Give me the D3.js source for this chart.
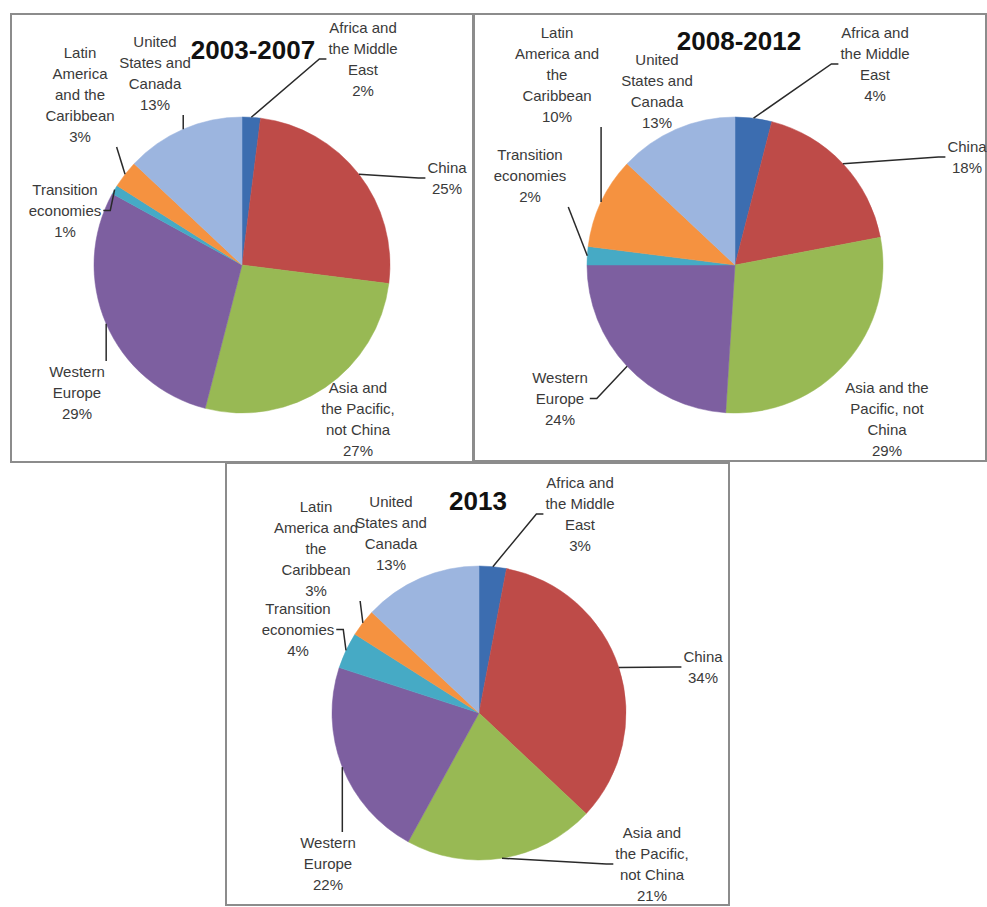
<!DOCTYPE html>
<html>
<head>
<meta charset="utf-8">
<script src="https://cdn.jsdelivr.net/npm/d3@7"></script>
<style>
body { margin: 0; background: #fff; }
</style>
</head>
<body>
<svg id="chart" width="987" height="907"></svg>
<script>
var categories = ["Africa and the Middle East", "China", "Asia and the Pacific, not China",
                  "Western Europe", "Transition economies", "Latin America and the Caribbean",
                  "United States and Canada"];
var periods = ["2003-2007", "2008-2012", "2013"];
var share0307 = [2, 25, 27, 29, 1, 3, 13];
var share0812 = [4, 18, 29, 24, 2, 10, 13];
var share2013 = [3, 34, 21, 22, 4, 3, 13];

var colors = ["#3c6db0", "#be4b48", "#98b954", "#7d5fa0", "#46aac5", "#f59240", "#9cb5df"];

// label placement: [dx, dy of first baseline from pie centre, leader line?, wrap width]
var panels = [
    { values: share0307, title: periods[0], box: [11, 14, 462, 448], cx: 242, cy: 265, r: 148, tx: 253, ty: 59,
      labels: [[121, -232, 1, 77], [205, -92, 1, 77], [116, 128, 0, 77], [-165, 112, 1, 77],
               [-177, -70, 1, 77], [-162, -207, 1, 77], [-87, -218, 1, 77]] },
    { values: share0812, title: periods[1], box: [474, 14, 512, 447], cx: 735, cy: 265, r: 148, tx: 739, ty: 50,
      labels: [[140, -227, 1, 86], [232, -113, 1, 86], [152, 128, 0, 86], [-175, 118, 1, 86],
               [-205, -105, 1, 86], [-178, -227, 1, 86], [-78, -200, 0, 86]] },
    { values: share2013, title: periods[2], box: [226, 463, 503, 442], cx: 479, cy: 713, r: 147, tx: 478, ty: 510,
      labels: [[101, -225, 1, 86], [224, -51, 1, 86], [173, 125, 1, 77], [-151, 135, 1, 86],
               [-181, -99, 1, 86], [-163, -201, 1, 86], [-88, -206, 0, 86]] }
];

var svg = d3.select("#chart");
var fontSize = 15, lineH = 21;

var measure = svg.append("text")
    .attr("font-family", "Liberation Sans, Arial, sans-serif")
    .attr("font-size", fontSize)
    .attr("visibility", "hidden");

function wrap(str, width)
{
    var words = str.split(" ");
    var lines = [];
    var cur = "";
    words.forEach(function(w) {
        var test = cur ? cur + " " + w : w;
        measure.text(test);
        if (cur && measure.node().getComputedTextLength() > width) {
            lines.push(cur);
            cur = w;
        } else {
            cur = test;
        }
    });
    if (cur) lines.push(cur);
    return lines;
}

function drawPanel(p)
{
    svg.append("rect")
        .attr("x", p.box[0]).attr("y", p.box[1])
        .attr("width", p.box[2]).attr("height", p.box[3])
        .attr("fill", "#fff")
        .attr("stroke", "#8c8c8c")
        .attr("stroke-width", 2);

    var g = svg.append("g").attr("transform", "translate(" + p.cx + "," + p.cy + ")");

    var pie = d3.pie().sort(null).value(function(d) { return d; });
    var arcs = pie(p.values);
    var arc = d3.arc().innerRadius(0).outerRadius(p.r);
    var edge = d3.arc().innerRadius(p.r).outerRadius(p.r);

    g.selectAll("path.slice")
        .data(arcs)
        .enter()
        .append("path")
        .attr("class", "slice")
        .attr("d", arc)
        .attr("fill", function(d, i) { return colors[i]; })
        .attr("stroke", function(d, i) { return colors[i]; })
        .attr("stroke-width", 0.5);

    arcs.forEach(function(d, i) {
        var lab = p.labels[i];
        var lines = wrap(categories[i], lab[3]);
        lines.push(p.values[i] + "%");

        var t = g.append("text")
            .attr("font-family", "Liberation Sans, Arial, sans-serif")
            .attr("font-size", fontSize)
            .attr("fill", "#3a3a3a")
            .attr("text-anchor", "middle");

        lines.forEach(function(l, j) {
            t.append("tspan")
                .attr("x", lab[0])
                .attr("y", lab[1] + j * lineH)
                .text(l);
        });

        if (!lab[2]) return;

        var bb = t.node().getBBox();
        var e = edge.centroid(d);
        var left = bb.x - 2, right = bb.x + bb.width + 2;
        var top = bb.y - 2, bottom = bb.y + bb.height + 2;
        var gx = e[0] < left ? left - e[0] : (e[0] > right ? e[0] - right : 0);
        var gy = e[1] < top ? top - e[1] : (e[1] > bottom ? e[1] - bottom : 0);
        var pts;
        if (gx >= gy) {
            var ax = e[0] < left ? left : right;
            var ay = bb.y + bb.height / 2;
            var elbow = e[0] < left ? ax - 7 : ax + 7;
            pts = [e, [elbow, ay], [ax, ay]];
        } else {
            var bx = Math.max(left, Math.min(right, e[0]));
            var by = e[1] < top ? top : bottom;
            pts = [e, [bx, by]];
        }

        g.append("path")
            .attr("d", d3.line()(pts))
            .attr("fill", "none")
            .attr("stroke", "#2a2a2a")
            .attr("stroke-width", 1.5);
    });

    svg.append("text")
        .attr("x", p.tx)
        .attr("y", p.ty)
        .attr("text-anchor", "middle")
        .attr("font-family", "Liberation Sans, Arial, sans-serif")
        .attr("font-weight", "bold")
        .attr("font-size", 26)
        .attr("fill", "#111")
        .text(p.title);
}

panels.forEach(drawPanel);
measure.remove();
</script>
</body>
</html>
